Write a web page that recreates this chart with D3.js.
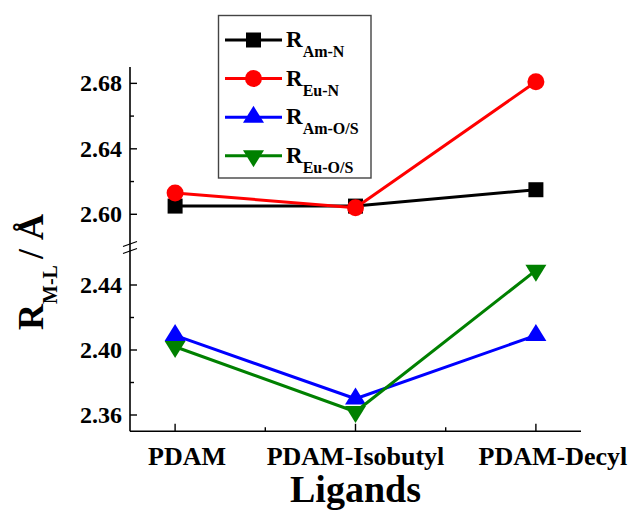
<!DOCTYPE html>
<html>
<head>
<meta charset="utf-8">
<script src="https://cdn.jsdelivr.net/npm/d3@7/dist/d3.min.js"></script>
<style>
  html, body { margin: 0; padding: 0; background: #fff; }
  svg { display: block; }
  text { font-family: "Liberation Serif", "Times New Roman", serif; font-weight: bold; fill: #000; }
</style>
</head>
<body>
<svg id="chart" width="633" height="512"></svg>
<script>
// Ligands and metal–ligand bond distances (Å)
const ligands = ["PDAM", "PDAM-Isobutyl", "PDAM-Decyl"];
const amN  = [2.605, 2.605, 2.615];
const euN  = [2.613, 2.604, 2.681];
const amOS = [2.409, 2.370, 2.409];
const euOS = [2.402, 2.362, 2.449];

// Tick values for the two segments of the broken y axis
const upperTicks = [2.60, 2.64, 2.68];
const upperMinor = [2.62, 2.66];
const lowerTicks = [2.36, 2.40, 2.44];
const lowerMinor = [2.38, 2.42];

const seriesNames = ["Am-N", "Eu-N", "Am-O/S", "Eu-O/S"];
const seriesValues = [amN, euN, amOS, euOS];
const seriesColors = ["#000000", "#ff0000", "#0000ff", "#008000"];
const seriesMarkers = ["square", "circle", "triangleUp", "triangleDown"];

// label nudges along x for the category names
const labelShift = [12, 0, 17];

const svg = d3.select("#chart");

const x0 = 130, x1 = 581;
const x = d3.scaleLinear().domain([-0.25, 2.25]).range([x0, x1]);

// broken axis: upper segment above the break, lower segment below it
const yUpper = d3.scaleLinear().domain([2.58, 2.69]).range([247, 67]);
const yLower = d3.scaleLinear().domain([2.35, 2.46]).range([431.25, 252.5]);
const yOf = v => v >= 2.5 ? yUpper(v) : yLower(v);
const yTop = yUpper(2.69), yBottom = yLower(2.35);

// marker shapes
function markerPath(type) {
  if (type === "square") return "M-7.5,-7.5H7.5V7.5H-7.5Z";
  if (type === "circle") return d3.symbol(d3.symbolCircle, Math.PI * 8.5 * 8.5)();
  const w = 21, h = 17;
  if (type === "triangleUp") return `M0,${-2*h/3}L${w/2},${h/3}L${-w/2},${h/3}Z`;
  return `M0,${2*h/3}L${w/2},${-h/3}L${-w/2},${-h/3}Z`;
}

// ---- axes ----
const axisG = svg.append("g");

// y axis line
axisG.append("line")
  .attr("x1", x0).attr("x2", x0).attr("y1", yTop).attr("y2", yBottom)
  .attr("stroke", "#000").attr("stroke-width", 1.6);

// x axis line
axisG.append("line")
  .attr("x1", x0).attr("x2", x1).attr("y1", yBottom).attr("y2", yBottom)
  .attr("stroke", "#000").attr("stroke-width", 1.6);

// y ticks (pointing inward)
const yMajor = upperTicks.concat(lowerTicks);
const yMinorAll = upperMinor.concat(lowerMinor);
axisG.selectAll(".ytick").data(yMajor).join("line")
  .attr("x1", x0).attr("x2", x0 + 7)
  .attr("y1", d => yOf(d)).attr("y2", d => yOf(d))
  .attr("stroke", "#000").attr("stroke-width", 1.4);
axisG.selectAll(".yminor").data(yMinorAll).join("line")
  .attr("x1", x0).attr("x2", x0 + 4)
  .attr("y1", d => yOf(d)).attr("y2", d => yOf(d))
  .attr("stroke", "#000").attr("stroke-width", 1.4);
axisG.selectAll(".ylabel").data(yMajor).join("text")
  .attr("x", x0 - 8).attr("y", d => yOf(d) + 8)
  .attr("text-anchor", "end")
  .attr("font-size", 24)
  .text(d => d.toFixed(2));

// axis break marks
[244, 251].forEach(yb => {
  axisG.append("line")
    .attr("x1", x0 - 7).attr("y1", yb + 2.5)
    .attr("x2", x0 + 7).attr("y2", yb - 2.5)
    .attr("stroke", "#000").attr("stroke-width", 1.3);
});

// x ticks (pointing inward)
const xMajor = ligands.map((d, i) => i);
const xMinor = [0.5, 1.5];
axisG.selectAll(".xtick").data(xMajor).join("line")
  .attr("x1", d => x(d)).attr("x2", d => x(d))
  .attr("y1", yBottom).attr("y2", yBottom - 7.5)
  .attr("stroke", "#000").attr("stroke-width", 1.4);
axisG.selectAll(".xminor").data(xMinor).join("line")
  .attr("x1", d => x(d)).attr("x2", d => x(d))
  .attr("y1", yBottom).attr("y2", yBottom - 4)
  .attr("stroke", "#000").attr("stroke-width", 1.4);
axisG.selectAll(".xlabel").data(ligands).join("text")
  .attr("x", (d, i) => x(i) + labelShift[i])
  .attr("y", 465)
  .attr("text-anchor", "middle")
  .attr("font-size", 26)
  .text(d => d);

// axis titles
svg.append("text")
  .attr("x", 355.5).attr("y", 502)
  .attr("text-anchor", "middle")
  .attr("font-size", 38)
  .text("Ligands");

const yTitle = svg.append("text")
  .attr("transform", "translate(43,330) rotate(-90)")
  .attr("text-anchor", "start");
yTitle.append("tspan").attr("font-size", 36).text("R");
yTitle.append("tspan").attr("font-size", 20).attr("dy", 14).text("M-L");
yTitle.append("tspan").attr("font-size", 36).attr("dy", -14).attr("dx", 6).text("/");
yTitle.append("tspan").attr("font-size", 36).attr("dx", 9).text("Å");

// ---- series ----
const line = d3.line().x((d, i) => x(i)).y(d => yOf(d));
seriesValues.forEach((vals, s) => {
  const g = svg.append("g");
  g.append("path")
    .attr("d", line(vals))
    .attr("fill", "none")
    .attr("stroke", seriesColors[s])
    .attr("stroke-width", 3)
    .attr("stroke-linejoin", "round");
  g.selectAll("path.m").data(vals).join("path")
    .attr("class", "m")
    .attr("transform", (d, i) => `translate(${x(i)},${yOf(d)})`)
    .attr("d", markerPath(seriesMarkers[s]))
    .attr("fill", seriesColors[s]);
});

// ---- legend ----
const legend = svg.append("g");
legend.append("rect")
  .attr("x", 218.5).attr("y", 15.5).attr("width", 152.5).attr("height", 162.5)
  .attr("fill", "#fff").attr("stroke", "#444").attr("stroke-width", 1.4);
seriesNames.forEach((name, s) => {
  const cy = 40 + s * 38.6;
  legend.append("line")
    .attr("x1", 225).attr("x2", 282).attr("y1", cy).attr("y2", cy)
    .attr("stroke", seriesColors[s]).attr("stroke-width", 3);
  legend.append("path")
    .attr("transform", `translate(253.5,${cy})`)
    .attr("d", markerPath(seriesMarkers[s]))
    .attr("fill", seriesColors[s]);
  const t = legend.append("text").attr("x", 286).attr("y", cy + 7);
  t.append("tspan").attr("font-size", 23).text("R");
  t.append("tspan").attr("font-size", 16).attr("dy", 10).text(name);
});
</script>
</body>
</html>
